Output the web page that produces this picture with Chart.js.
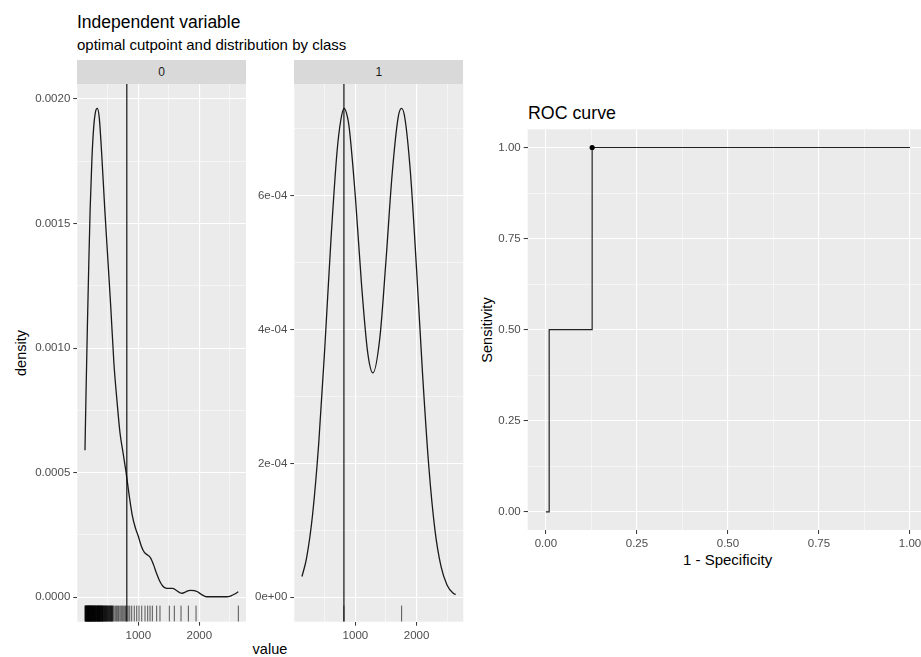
<!DOCTYPE html>
<html><head><meta charset="utf-8">
<script src="https://cdn.jsdelivr.net/npm/chart.js@4.4.1/dist/chart.umd.min.js"></script>
<style>
html,body{margin:0;padding:0;background:#fff;overflow:hidden;}
#wrap{position:relative;width:921px;height:657px;overflow:hidden;font-family:"Liberation Sans",Arial,sans-serif;}
canvas{position:absolute;}
.txt{position:absolute;white-space:nowrap;color:#000;line-height:1;}
.rot{position:absolute;white-space:nowrap;color:#000;line-height:1;transform:translate(-50%,-50%) rotate(-90deg);}
.strip{position:absolute;background:#D9D9D9;color:#1A1A1A;font-size:12px;text-align:center;line-height:24px;height:24px;}
</style></head>
<body><div id="wrap">
<div class="txt" style="left:77px;top:13.5px;font-size:17.5px;">Independent variable</div>
<div class="txt" style="left:77px;top:37.3px;font-size:15px;">optimal cutpoint and distribution by class</div>
<div class="strip" id="s0" style="left:77.3px;top:60px;width:168.7px;"></div>
<div class="strip" id="s1" style="left:294.3px;top:60px;width:169px;"></div>
<div class="rot" style="left:20.5px;top:353px;font-size:14.5px;">density</div>
<div class="txt" style="left:252.6px;top:641.7px;font-size:14.5px;">value</div>
<div class="txt" style="left:528px;top:105.2px;font-size:17.8px;">ROC curve</div>
<div class="rot" style="left:487px;top:330px;font-size:14.5px;">Sensitivity</div>
<div class="txt" style="left:683px;top:552.3px;font-size:15px;">1 - Specificity</div>
<canvas id="c0" width="250" height="573" style="left:0;top:84px;width:250px;height:573px;"></canvas>
<canvas id="c1" width="217" height="573" style="left:250px;top:84px;width:217px;height:573px;"></canvas>
<canvas id="c2" width="470" height="432" style="left:470px;top:125px;width:470px;height:432px;"></canvas>
</div>
<script>
// ---------- data ----------
const STRIP_LABELS = ['0', '1'];
const VALUE_TICKS = [1000, 2000];
const VALUE_TICK_LABELS = ['1000', '2000'];
const DENS0_TICKS = [0, 0.0005, 0.001, 0.0015, 0.002];
const DENS0_LABELS = ['0.0000', '0.0005', '0.0010', '0.0015', '0.0020'];
const DENS1_TICKS = [0, 0.0002, 0.0004, 0.0006];
const DENS1_LABELS = ['0e+00', '2e-04', '4e-04', '6e-04'];
const ROC_TICKS = [0, 0.25, 0.5, 0.75, 1];
const ROC_LABELS = ['0.00', '0.25', '0.50', '0.75', '1.00'];

const CUTPOINT = 812;

const CLASS0_VALUE = [126,145,165,185,210,240,270,300,328,360,400,450,500,550,600,650,700,750,800,850,900,950,1000,1050,1100,1150,1200,1250,1300,1350,1400,1450,1500,1560,1620,1680,1720,1780,1850,1920,1970,2030,2090,2150,2300,2450,2520,2580,2639];
const CLASS0_DENSITY = [5.9e-4,8.4e-4,1.08e-3,1.30e-3,1.55e-3,1.76e-3,1.89e-3,1.95e-3,1.962e-3,1.925e-3,1.78e-3,1.56e-3,1.36e-3,1.16e-3,9.4e-4,7.9e-4,6.6e-4,5.8e-4,5.0e-4,4.1e-4,3.3e-4,2.8e-4,2.45e-4,2.05e-4,1.8e-4,1.7e-4,1.58e-4,1.3e-4,9.5e-5,6.5e-5,4.5e-5,3.7e-5,3.6e-5,3.6e-5,2.8e-5,1.8e-5,1.6e-5,2.2e-5,2.8e-5,2.7e-5,2.2e-5,1.2e-5,4e-6,2e-6,2e-6,2e-6,6e-6,1.3e-5,2.2e-5];

const CLASS1_VALUE = [126,200,300,400,500,600,700,760,816,870,900,1000,1100,1200,1286,1400,1500,1600,1700,1756,1810,1900,2000,2100,2200,2300,2400,2500,2600,2639];
const CLASS1_DENSITY = [3.1e-5,5.8e-5,1.24e-4,2.30e-4,3.74e-4,5.34e-4,6.66e-4,7.12e-4,7.30e-4,7.17e-4,7.00e-4,5.97e-4,4.67e-4,3.66e-4,3.35e-4,3.88e-4,5.03e-4,6.31e-4,7.17e-4,7.30e-4,7.15e-4,6.34e-4,4.90e-4,3.31e-4,1.96e-4,1.01e-4,4.6e-5,1.8e-5,6e-6,4e-6];

const RUG0 = [126,131,135,139,142,146,150,154,158,163,167,170,173,176,180,183,187,190,193,196,200,203,207,210,214,218,221,225,229,232,236,240,244,247,251,255,258,262,266,270,274,278,281,285,289,292,296,300,304,308,312,316,322,326,330,334,338,342,345,349,352,356,360,364,368,372,377,381,385,390,395,400,404,408,412,416,420,426,432,438,445,450,455,462,468,474,480,486,492,498,505,512,520,528,535,542,548,555,560,568,575,582,590,615,632,648,665,680,700,718,735,752,770,790,812,833,860,892,934,974,1011,1056,1110,1154,1192,1230,1301,1355,1508,1590,1700,1820,1946,2639];
const RUG1 = [812, 1756];

const ROC_FPR = [0, 0.009, 0.127, 1];
const ROC_TPR = [0, 0.5, 1, 1];
const OPT_FPR = [0.127];
const OPT_TPR = [1];

// ---------- helpers ----------
const FONT = '"Liberation Sans", Arial, sans-serif';
document.getElementById('s0').textContent = STRIP_LABELS[0];
document.getElementById('s1').textContent = STRIP_LABELS[1];

function expand(lo, hi) { const w = hi - lo; return [lo - 0.05 * w, hi + 0.05 * w]; }

const bgPlugin = {
  id: 'panelbg',
  beforeDraw(chart) {
    const a = chart.chartArea, ctx = chart.ctx;
    ctx.save();
    ctx.fillStyle = '#EBEBEB';
    ctx.fillRect(a.left, a.top, a.right - a.left, a.bottom - a.top);
    ctx.restore();
  }
};

function makeAxis(min, max, majors, labels, size, horizontal) {
  const step = majors[1] - majors[0];
  const eps = step * 1e-6;
  const minors = [];
  for (let i = -1; i < majors.length; i++) {
    const m = majors[0] + (i + 0.5) * step;
    if (m > min && m < max) minors.push(m);
  }
  const all = majors.filter(v => v >= min && v <= max).concat(minors).sort((a, b) => a - b);
  const isMajor = v => majors.some(m => Math.abs(m - v) < eps);
  const labelOf = v => { const i = majors.findIndex(m => Math.abs(m - v) < eps); return i >= 0 ? labels[i] : ''; };
  return {
    type: 'linear', min: min, max: max,
    afterBuildTicks: ax => { ax.ticks = all.map(v => ({ value: v })); },
    afterFit: ax => {
      if (horizontal) ax.height = size; else ax.width = size;
      ax.paddingTop = 0; ax.paddingBottom = 0; ax.paddingLeft = 0; ax.paddingRight = 0;
    },
    border: { display: false },
    grid: {
      color: '#FFFFFF',
      lineWidth: c => (c.tick && isMajor(c.tick.value)) ? 1.1 : 0.5,
      tickColor: c => (c.tick && isMajor(c.tick.value)) ? '#333333' : 'rgba(0,0,0,0)',
      tickWidth: c => (c.tick && isMajor(c.tick.value)) ? 1 : 0,
      tickLength: 4
    },
    ticks: {
      autoSkip: false, maxRotation: 0, minRotation: 0, padding: 3,
      color: '#4D4D4D', font: { family: FONT, size: 11.5 },
      callback: v => labelOf(v)
    }
  };
}

const common = {
  responsive: false, animation: false, events: [],
  plugins: { legend: { display: false }, tooltip: { enabled: false } }
};

const allValues = RUG0.concat(RUG1);
const XR = expand(Math.min(...allValues), Math.max(...allValues));

function densityPanel(id, vals, dens, rug, yTicks, yLabels, yWidth, padRight) {
  const YR = expand(0, Math.max(...dens));
  const rugY = YR[0] + 0.015 * (YR[1] - YR[0]);
  new Chart(document.getElementById(id), {
    type: 'scatter',
    data: {
      datasets: [
        { data: [{ x: CUTPOINT, y: YR[0] }, { x: CUTPOINT, y: YR[1] }], showLine: true,
          borderColor: '#000000', borderWidth: 1.1, pointRadius: 0 },
        { data: vals.map((v, i) => ({ x: v, y: dens[i] })), showLine: true,
          borderColor: '#1A1A1A', borderWidth: 1.3, pointRadius: 0, cubicInterpolationMode: 'monotone' },
        { data: rug.map(v => ({ x: v, y: rugY })), showLine: false,
          pointStyle: 'line', rotation: 90, pointRadius: 8, borderWidth: 1,
          borderColor: 'rgba(0,0,0,0.65)', pointBorderColor: 'rgba(0,0,0,0.65)' }
      ]
    },
    options: Object.assign({}, common, {
      layout: { autoPadding: false, padding: { left: 0, top: 0, right: padRight, bottom: 0 } },
      scales: {
        x: makeAxis(XR[0], XR[1], VALUE_TICKS, VALUE_TICK_LABELS, 35.3, true),
        y: makeAxis(YR[0], YR[1], yTicks, yLabels, yWidth, false)
      }
    }),
    plugins: [bgPlugin]
  });
}

densityPanel('c0', CLASS0_VALUE, CLASS0_DENSITY, RUG0, DENS0_TICKS, DENS0_LABELS, 77.3, 4);
densityPanel('c1', CLASS1_VALUE, CLASS1_DENSITY, RUG1, DENS1_TICKS, DENS1_LABELS, 44.3, 3.7);

new Chart(document.getElementById('c2'), {
  type: 'scatter',
  data: {
    datasets: [
      { data: OPT_FPR.map((v, i) => ({ x: v, y: OPT_TPR[i] })), showLine: false,
        pointRadius: 2.6, pointBackgroundColor: '#000000', pointBorderColor: '#000000', pointBorderWidth: 0 },
      { data: ROC_FPR.map((v, i) => ({ x: v, y: ROC_TPR[i] })), showLine: true, stepped: true,
        borderColor: '#222222', borderWidth: 1.2, pointRadius: 0 }
    ]
  },
  options: Object.assign({}, common, {
    layout: { autoPadding: false, padding: { left: 0, top: 4.3, right: 11.8, bottom: 0 } },
    scales: {
      x: makeAxis(-0.05, 1.05, ROC_TICKS, ROC_LABELS, 27, true),
      y: makeAxis(-0.05, 1.05, ROC_TICKS, ROC_LABELS, 57.7, false)
    }
  }),
  plugins: [bgPlugin]
});
</script>
</body></html>
